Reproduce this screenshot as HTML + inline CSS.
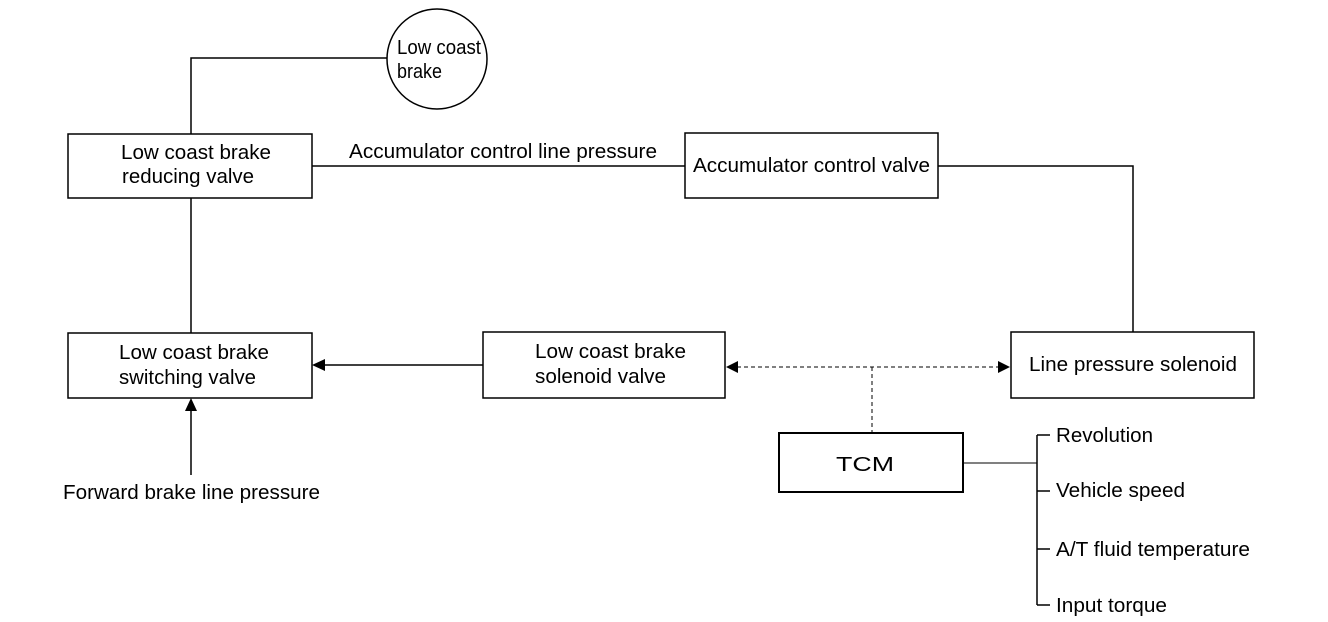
<!DOCTYPE html>
<html><head><style>body{margin:0;background:#fff}svg{display:block}text{font-family:"Liberation Sans",sans-serif;font-size:20px;fill:#000}</style></head><body>
<svg width="1328" height="622" viewBox="0 0 1328 622" xmlns="http://www.w3.org/2000/svg">
<g fill="none" stroke="#000" stroke-width="1.5">
<rect x="68" y="134" width="244" height="64"/>
<rect x="685" y="133" width="253" height="65"/>
<rect x="68" y="333" width="244" height="65"/>
<rect x="483" y="332" width="242" height="66"/>
<rect x="1011" y="332" width="243" height="66"/>
<rect x="779" y="433" width="184" height="59" stroke-width="2"/>
<circle cx="437" cy="59" r="50"/>
<polyline points="191,134 191,58 387,58"/>
<line x1="191" y1="198" x2="191" y2="333"/>
<line x1="312" y1="166" x2="685" y2="166"/>
<polyline points="938,166 1133,166 1133,332"/>
<line x1="483" y1="365" x2="324" y2="365"/>
<line x1="191" y1="475" x2="191" y2="410"/>
<g stroke-dasharray="4,3" stroke-width="1">
<line x1="737" y1="367" x2="999" y2="367"/>
<line x1="872" y1="367" x2="872" y2="433"/>
</g>
<line x1="963" y1="463" x2="1037" y2="463" stroke-width="1"/>
<line x1="1037" y1="435" x2="1037" y2="605"/>
<line x1="1037" y1="435" x2="1050" y2="435"/>
<line x1="1037" y1="491" x2="1050" y2="491"/>
<line x1="1037" y1="549" x2="1050" y2="549"/>
<line x1="1037" y1="605" x2="1050" y2="605"/>
</g>
<polygon points="312,365 325,359 325,371" fill="#000"/>
<polygon points="191,398 185,411 197,411" fill="#000"/>
<polygon points="726,367 738,361 738,373" fill="#000"/>
<polygon points="1010,367 998,361 998,373" fill="#000"/>
<g lengthAdjust="spacingAndGlyphs">
<text x="397" y="54" textLength="84" lengthAdjust="spacingAndGlyphs">Low coast</text>
<text x="397" y="78" textLength="45" lengthAdjust="spacingAndGlyphs">brake</text>
<text x="121" y="159" textLength="150" lengthAdjust="spacingAndGlyphs">Low coast brake</text>
<text x="122" y="183" textLength="132" lengthAdjust="spacingAndGlyphs">reducing valve</text>
<text x="349" y="158" textLength="308" lengthAdjust="spacingAndGlyphs">Accumulator control line pressure</text>
<text x="693" y="172" textLength="237" lengthAdjust="spacingAndGlyphs">Accumulator control valve</text>
<text x="119" y="359" textLength="150" lengthAdjust="spacingAndGlyphs">Low coast brake</text>
<text x="119" y="384" textLength="137" lengthAdjust="spacingAndGlyphs">switching valve</text>
<text x="535" y="358" textLength="151" lengthAdjust="spacingAndGlyphs">Low coast brake</text>
<text x="535" y="383" textLength="131" lengthAdjust="spacingAndGlyphs">solenoid valve</text>
<text x="1029" y="371" textLength="208" lengthAdjust="spacingAndGlyphs">Line pressure solenoid</text>
<text x="836" y="471" textLength="58" lengthAdjust="spacingAndGlyphs">TCM</text>
<text x="63" y="499" textLength="257" lengthAdjust="spacingAndGlyphs">Forward brake line pressure</text>
<text x="1056" y="442" textLength="97" lengthAdjust="spacingAndGlyphs">Revolution</text>
<text x="1056" y="497" textLength="129" lengthAdjust="spacingAndGlyphs">Vehicle speed</text>
<text x="1056" y="556" textLength="194" lengthAdjust="spacingAndGlyphs">A/T fluid temperature</text>
<text x="1056" y="612" textLength="111" lengthAdjust="spacingAndGlyphs">Input torque</text>
</g>
</svg>
</body></html>
